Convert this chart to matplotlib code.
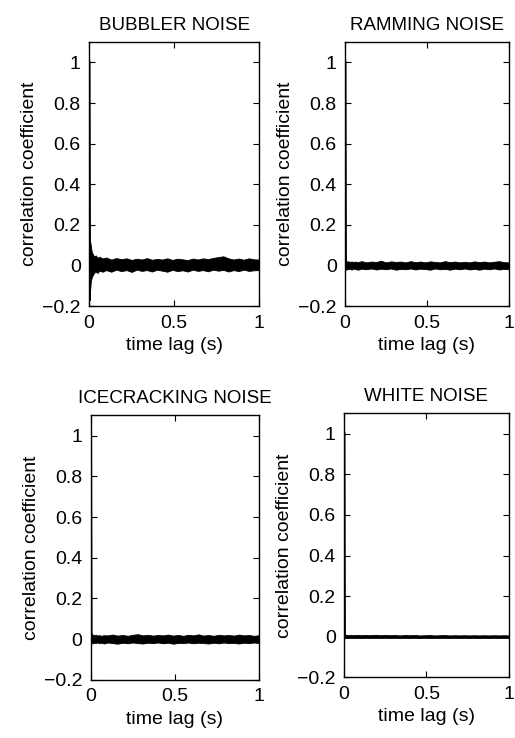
import matplotlib
matplotlib.use("Agg")
import matplotlib.pyplot as plt

plt.rcParams["font.family"] = ["Liberation Sans", "DejaVu Sans"]

# panel titles
titles = ["BUBBLER NOISE", "RAMMING NOISE", "ICECRACKING NOISE", "WHITE NOISE"]

# spike at zero lag
spike_lag = [0.0, 0.003]
spike_val = [1.0, 0.0]

# lag points where the noise band edges were read
band_lag = [0.003, 0.006, 0.01, 0.015, 0.02, 0.03, 0.04, 0.05, 0.06, 0.08,
            0.10, 0.13, 0.16, 0.19, 0.22, 0.25, 0.28, 0.31, 0.34, 0.37, 0.40,
            0.43, 0.46, 0.49, 0.52, 0.55, 0.58, 0.61, 0.64, 0.67, 0.70,
            0.73, 0.76, 0.79, 0.82, 0.85, 0.88, 0.91, 0.94, 0.97, 1.0]

# upper / lower edges of the black noise band for each panel
bubbler_hi = [0.05, 0.12, 0.10, 0.07, 0.06, 0.045, 0.05, 0.038, 0.044, 0.035,
              0.04, 0.03, 0.037, 0.032, 0.036, 0.028, 0.034, 0.03, 0.037, 0.029, 0.033,
              0.03, 0.036, 0.028, 0.034, 0.031, 0.027, 0.035, 0.03, 0.036, 0.032,
              0.038, 0.042, 0.046, 0.036, 0.03, 0.035, 0.029, 0.036, 0.031, 0.03]
bubbler_lo = [-0.17, -0.12, -0.08, -0.06, -0.05, -0.035, -0.03, -0.036, -0.025, -0.03,
              -0.022, -0.03, -0.02, -0.027, -0.022, -0.031, -0.02, -0.026, -0.022, -0.029, -0.02,
              -0.025, -0.03, -0.021, -0.027, -0.023, -0.029, -0.02, -0.026, -0.022, -0.028,
              -0.02, -0.025, -0.021, -0.029, -0.022, -0.027, -0.02, -0.026, -0.023, -0.022]

ramming_hi = [0.03, 0.025, 0.022, 0.018, 0.022, 0.017, 0.021, 0.016, 0.02, 0.017,
              0.022, 0.016, 0.02, 0.018, 0.024, 0.016, 0.021, 0.018, 0.02, 0.016, 0.022,
              0.017, 0.02, 0.016, 0.021, 0.018, 0.016, 0.022, 0.017, 0.02, 0.016,
              0.019, 0.016, 0.021, 0.017, 0.02, 0.016, 0.019, 0.022, 0.017, 0.016]
ramming_lo = [-0.02, -0.016, -0.02, -0.014, -0.018, -0.015, -0.02, -0.014, -0.017, -0.02,
              -0.015, -0.018, -0.014, -0.019, -0.015, -0.018, -0.014, -0.02, -0.016, -0.018, -0.014,
              -0.019, -0.015, -0.017, -0.02, -0.014, -0.018, -0.016, -0.02, -0.015, -0.018,
              -0.014, -0.019, -0.016, -0.02, -0.015, -0.018, -0.014, -0.019, -0.016, -0.018]

ice_hi = [0.03, 0.028, 0.024, 0.02, 0.018, 0.022, 0.017, 0.02, 0.016, 0.019,
          0.018, 0.022, 0.017, 0.02, 0.016, 0.021, 0.024, 0.018, 0.021, 0.017, 0.02,
          0.018, 0.022, 0.017, 0.02, 0.016, 0.021, 0.018, 0.023, 0.017, 0.02,
          0.016, 0.021, 0.018, 0.02, 0.017, 0.022, 0.018, 0.02, 0.016, 0.019]
ice_lo = [-0.02, -0.022, -0.018, -0.021, -0.017, -0.02, -0.016, -0.021, -0.018, -0.022,
          -0.017, -0.02, -0.023, -0.018, -0.021, -0.017, -0.02, -0.022, -0.018, -0.02, -0.017,
          -0.021, -0.018, -0.023, -0.019, -0.02, -0.017, -0.021, -0.018, -0.02, -0.022,
          -0.018, -0.021, -0.017, -0.02, -0.019, -0.022, -0.018, -0.02, -0.017, -0.02]

white_hi = [0.015, 0.012, 0.011, 0.009, 0.01, 0.008, 0.01, 0.009, 0.008, 0.01,
            0.008, 0.009, 0.008, 0.01, 0.008, 0.009, 0.008, 0.009, 0.007, 0.009, 0.008,
            0.009, 0.007, 0.008, 0.009, 0.007, 0.008, 0.009, 0.007, 0.008, 0.007,
            0.008, 0.007, 0.008, 0.007, 0.008, 0.007, 0.008, 0.007, 0.008, 0.007]
white_lo = [-0.006, -0.005, -0.006, -0.005, -0.006, -0.005, -0.006, -0.005, -0.006, -0.005,
            -0.006, -0.005, -0.006, -0.005, -0.006, -0.005, -0.006, -0.005, -0.006, -0.005, -0.006,
            -0.005, -0.006, -0.005, -0.006, -0.005, -0.006, -0.005, -0.006, -0.005, -0.006,
            -0.005, -0.006, -0.005, -0.006, -0.005, -0.006, -0.005, -0.006, -0.005, -0.006]

bands = [(bubbler_hi, bubbler_lo), (ramming_hi, ramming_lo), (ice_hi, ice_lo), (white_hi, white_lo)]

yticks = [-0.2, 0, 0.2, 0.4, 0.6, 0.8, 1]
ytick_labels = ["\u22120.2", "0", "0.2", "0.4", "0.6", "0.8", "1"]
xticks = [0, 0.5, 1]
xtick_labels = ["0", "0.5", "1"]

fig = plt.figure(figsize=(5.15, 7.38), dpi=100)

# axes boxes in figure fractions (left, bottom, width, height)
boxes = [[0.173, 0.585, 0.330, 0.358],
         [0.670, 0.585, 0.318, 0.358],
         [0.176, 0.079, 0.327, 0.358],
         [0.668, 0.082, 0.320, 0.358]]

for i in range(4):
    ax = fig.add_axes(boxes[i])
    hi, lo = bands[i]
    ax.fill_between(band_lag, lo, hi, color="black", linewidth=0.6, edgecolor="black")
    ax.plot(spike_lag, spike_val, color="black", linewidth=2.0)
    ax.set_xlim(0, 1)
    ax.set_ylim(-0.2, 1.1)
    ax.set_xticks(xticks)
    ax.set_xticklabels(xtick_labels)
    ax.set_yticks(yticks)
    ax.set_yticklabels(ytick_labels)
    ax.tick_params(direction="in", length=4, width=0.8, top=True, right=True,
                   labelsize=14, pad=6, colors="black")
    for s in ax.spines.values():
        s.set_linewidth(1.0)
    ax.set_xlabel("time lag (s)", fontsize=14, labelpad=4)
    ax.set_ylabel("correlation coefficient", fontsize=14, labelpad=3)
    ax.set_title(titles[i], fontsize=13.5, pad=9)

fig.savefig("out.png", dpi=100)
